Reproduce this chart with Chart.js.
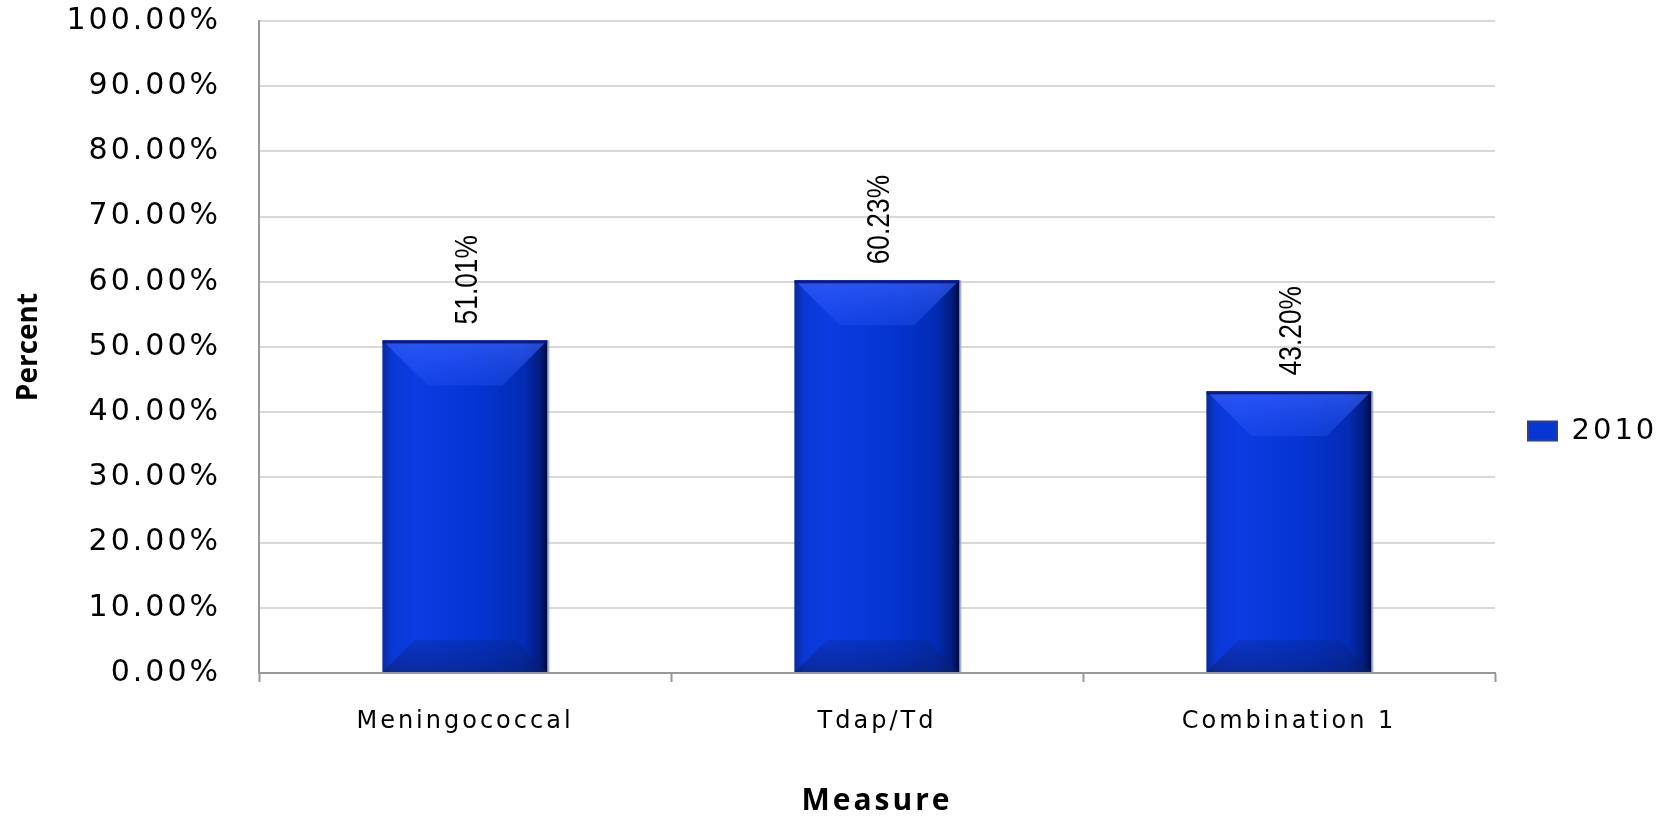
<!DOCTYPE html>
<html lang="en">
<head>
    <meta charset="UTF-8">
    <title>Measure Percent 2010</title>
    <style>
        html, body { margin: 0; padding: 0; background: #fff; }
        .chart_container { width: 1675px; height: 819px; }
    </style>
</head>
<body>
    <div class="chart_container">
        <canvas class="my_chart" aria-label="Percent by measure" role="img"></canvas>
    </div>

    <script src="https://cdn.jsdelivr.net/npm/chart.js"></script>
    <script>
    const categories = ['Meningococcal', 'Tdap/Td', 'Combination 1'];
    const values2010 = [51.01, 60.23, 43.20];
    const seriesName = '2010';
    const yTicks = [0, 10, 20, 30, 40, 50, 60, 70, 80, 90, 100];

    const wideFont = "'DejaVu Sans', Verdana, sans-serif";
    const boldFont = "'Open Sans', sans-serif";

    // the picture's text is stretched sideways, so space some of it out
    const spacingPlugin = {
        id: 'spacing',
        afterInit(chart) {
            const lg = chart.legend;
            const fit = lg.fit.bind(lg);
            lg.fit = () => { fit(); lg.width = 180; };
        },
        beforeDraw(chart) {
            if (chart._spaced) return;
            chart._spaced = true;
            const wrap = (obj, name, sp) => {
                const orig = obj[name].bind(obj);
                obj[name] = (...args) => {
                    chart.ctx.save();
                    chart.ctx.letterSpacing = sp;
                    orig(...args);
                    chart.ctx.restore();
                };
            };
            wrap(chart.scales.x, 'drawLabels', '3px');
            wrap(chart.scales.x, 'drawTitle', '3px');
            wrap(chart.scales.y, 'drawLabels', '3px');
            wrap(chart.legend, 'draw', '3px');
        }
    };

    // glossy bevel look of the bars
    const bevelPlugin = {
        id: 'bevel',
        afterDatasetsDraw(chart) {
            const ctx = chart.ctx;
            chart.getDatasetMeta(0).data.forEach(bar => {
                const l = bar.x - bar.width / 2, r = bar.x + bar.width / 2;
                const t = bar.y, b = bar.base;
                ctx.save();
                let g = ctx.createLinearGradient(l, 0, r, 0);
                g.addColorStop(0, '#0a2a9c');
                g.addColorStop(0.06, '#0a38d6');
                g.addColorStop(0.2, '#0b3ce2');
                g.addColorStop(0.6, '#0434d0');
                g.addColorStop(0.86, '#032cb4');
                g.addColorStop(0.95, '#031d80');
                g.addColorStop(1, '#010a40');
                ctx.fillStyle = g;
                ctx.fillRect(l, t, r - l, b - t);

                const bv = 45;
                g = ctx.createLinearGradient(0, t, 0, t + bv);
                g.addColorStop(0, 'rgba(60,100,255,0.65)');
                g.addColorStop(1, 'rgba(40,85,245,0.35)');
                ctx.fillStyle = g;
                ctx.beginPath();
                ctx.moveTo(l, t);
                ctx.lineTo(r, t);
                ctx.lineTo(r - bv, t + bv);
                ctx.lineTo(l + bv, t + bv);
                ctx.closePath();
                ctx.fill();

                const bb = 32;
                g = ctx.createLinearGradient(0, b - bb, 0, b);
                g.addColorStop(0, 'rgba(10,30,120,0.25)');
                g.addColorStop(1, 'rgba(10,30,110,0.55)');
                ctx.fillStyle = g;
                ctx.beginPath();
                ctx.moveTo(l, b);
                ctx.lineTo(r, b);
                ctx.lineTo(r - bb, b - bb);
                ctx.lineTo(l + bb, b - bb);
                ctx.closePath();
                ctx.fill();

                ctx.fillStyle = 'rgba(10,20,120,0.9)';
                ctx.fillRect(l, t, r - l, 3);
                ctx.fillStyle = 'rgba(150,160,200,0.8)';
                ctx.fillRect(r, t, 2, b - t);
                ctx.restore();
            });
        }
    };

    // rotated value labels above each bar (narrow font look)
    const valueLabels = {
        id: 'valueLabels',
        afterDatasetsDraw(chart) {
            const ctx = chart.ctx;
            chart.getDatasetMeta(0).data.forEach((bar, i) => {
                ctx.save();
                ctx.translate(bar.x + 3, bar.y - 16);
                ctx.rotate(-Math.PI / 2);
                ctx.scale(0.85, 1);
                ctx.font = "31px 'Liberation Sans', Arial, sans-serif";
                ctx.fillStyle = '#000';
                ctx.textAlign = 'left';
                ctx.textBaseline = 'middle';
                ctx.fillText(values2010[i].toFixed(2) + '%', 0, 0);
                ctx.restore();
            });
        }
    };

    document.addEventListener('DOMContentLoaded', () => {
        const ctx = document.querySelector('.my_chart').getContext('2d');

        new Chart(ctx, {
            type: 'bar',
            data: {
                labels: categories,
                datasets: [{
                    label: seriesName,
                    data: values2010,
                    backgroundColor: '#0433cc',
                    borderWidth: 0,
                    categoryPercentage: 0.8,
                    barPercentage: 0.5
                }]
            },
            options: {
                responsive: true,
                maintainAspectRatio: false,
                animation: false,
                layout: { padding: { top: 21, right: 0, left: 0, bottom: 0 } },
                plugins: {
                    tooltip: { enabled: false },
                    legend: {
                        position: 'right',
                        title: { display: true, text: ' ', font: { size: 10 }, padding: 5 },
                        labels: {
                            boxWidth: 29,
                            boxHeight: 19,
                            padding: 33,
                            color: '#000',
                            font: { family: wideFont, size: 29 },
                            generateLabels: () => [{
                                text: seriesName,
                                fillStyle: '#0836d2',
                                strokeStyle: '#2c3f90',
                                fontColor: '#000',
                                lineWidth: 2,
                                datasetIndex: 0
                            }]
                        }
                    }
                },
                scales: {
                    x: {
                        offset: true,
                        grid: {
                            offset: true,
                            drawOnChartArea: false,
                            drawTicks: true,
                            tickLength: 9,
                            tickWidth: 2,
                            tickColor: '#999'
                        },
                        border: { color: '#999', width: 2 },
                        ticks: {
                            color: '#000',
                            padding: 25,
                            font: { family: wideFont, size: 24 }
                        },
                        title: {
                            display: true,
                            text: 'Measure',
                            color: '#000',
                            font: { family: boldFont, size: 30, weight: 'bold' },
                            padding: { top: 0, bottom: 0 }
                        },
                        afterFit(scale) { scale.height = 146; }
                    },
                    y: {
                        min: 0,
                        max: 100,
                        afterBuildTicks(scale) { scale.ticks = yTicks.map(v => ({ value: v })); },
                        grid: { color: '#d9d9d9', lineWidth: 2, drawTicks: false },
                        border: { color: '#999', width: 2 },
                        ticks: {
                            color: '#000',
                            padding: 38,
                            font: { family: wideFont, size: 30 },
                            callback: v => v.toFixed(2) + '%'
                        },
                        title: {
                            display: true,
                            text: 'Percent',
                            color: '#000',
                            font: { family: boldFont, size: 28, weight: 'bold' },
                            padding: { top: 12, bottom: 0 }
                        },
                        afterFit(scale) {
                            scale.width = 259;
                            scale.paddingTop = 0;
                            scale.paddingBottom = 0;
                        }
                    }
                }
            },
            plugins: [spacingPlugin, bevelPlugin, valueLabels]
        });
    });
    </script>
</body>
</html>
